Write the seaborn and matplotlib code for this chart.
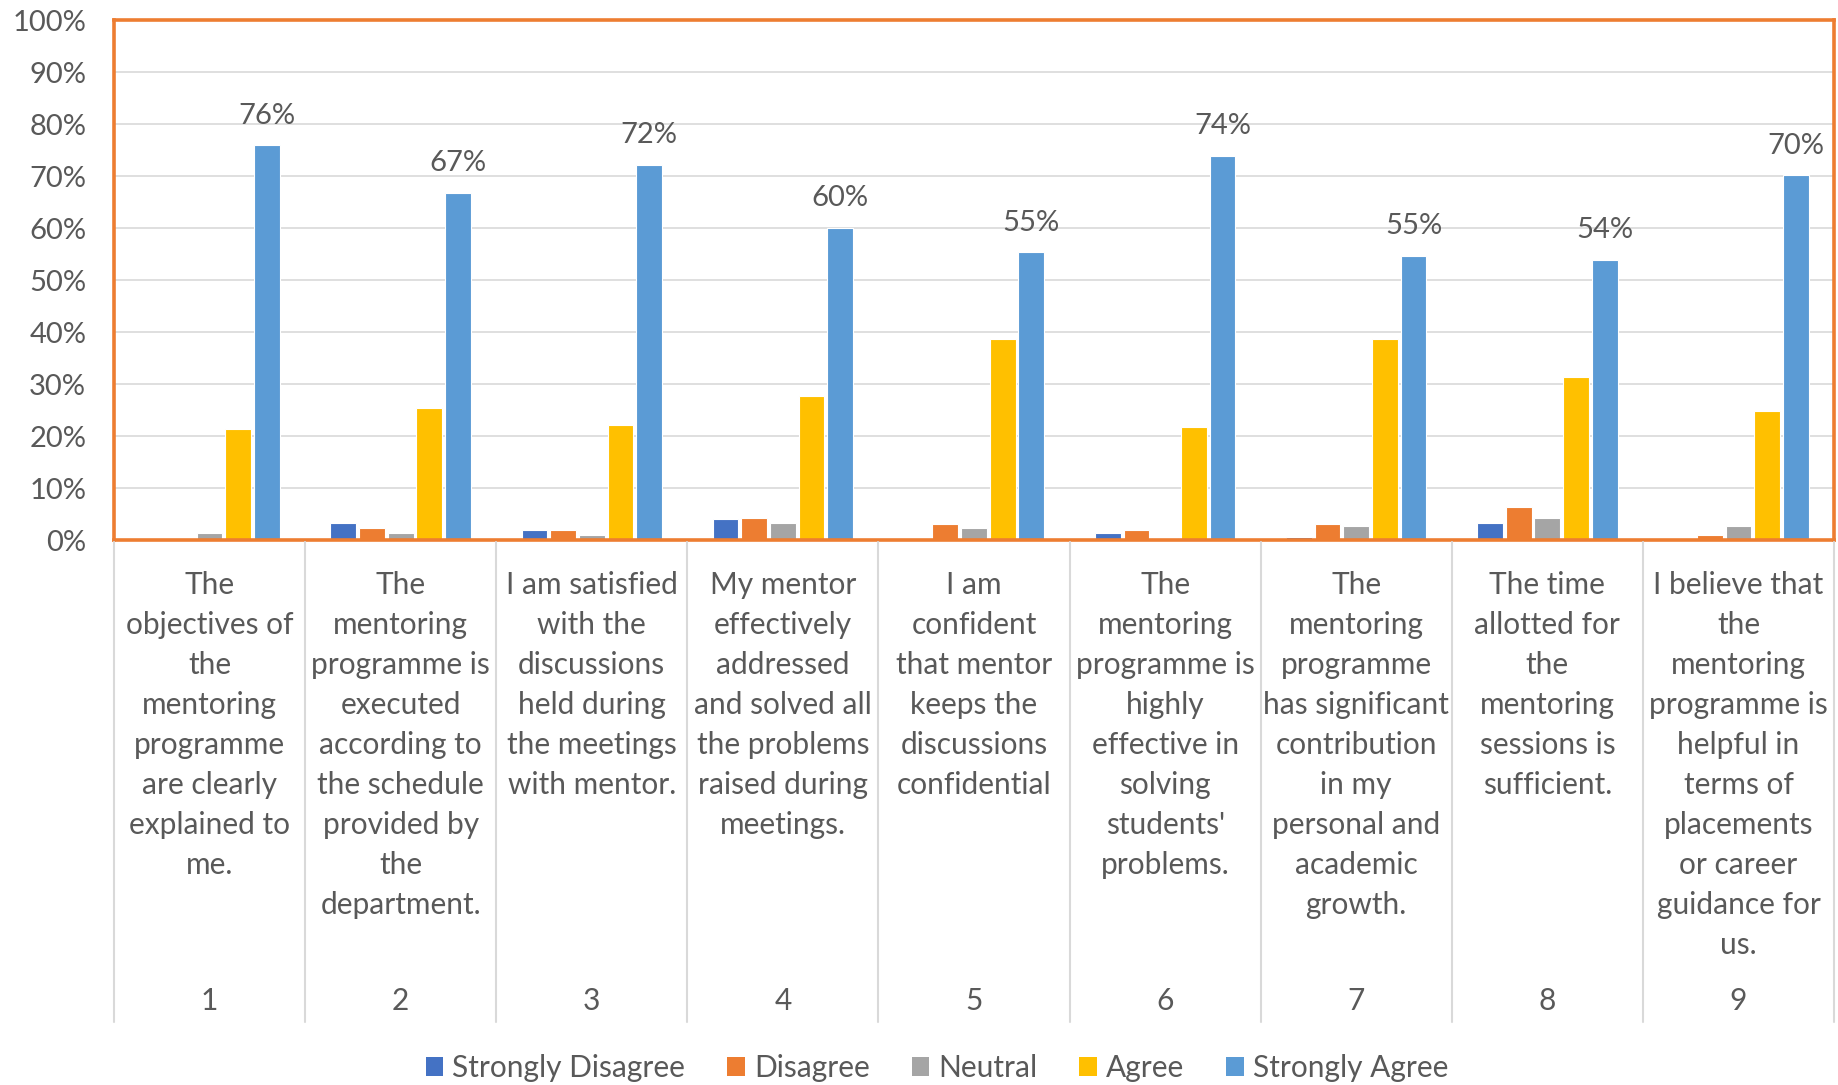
import matplotlib
matplotlib.use("Agg")
import matplotlib.pyplot as plt
import matplotlib.transforms as mtransforms
from matplotlib.lines import Line2D
from matplotlib.patches import Patch
from matplotlib.ticker import FuncFormatter
import pandas as pd
import seaborn as sns

# Survey responses (% of students) per statement
questions = ["1", "2", "3", "4", "5", "6", "7", "8", "9"]
statements = [
    "The\nobjectives of\nthe\nmentoring\nprogramme\nare clearly\nexplained to\nme.",
    "The\nmentoring\nprogramme is\nexecuted\naccording to\nthe schedule\nprovided by\nthe\ndepartment.",
    "I am satisfied\nwith the\ndiscussions\nheld during\nthe meetings\nwith mentor.",
    "My mentor\neffectively\naddressed\nand solved all\nthe problems\nraised during\nmeetings.",
    "I am\nconfident\nthat mentor\nkeeps the\ndiscussions\nconfidential",
    "The\nmentoring\nprogramme is\nhighly\neffective in\nsolving\nstudents'\nproblems.",
    "The\nmentoring\nprogramme\nhas significant\ncontribution\nin my\npersonal and\nacademic\ngrowth.",
    "The time\nallotted for\nthe\nmentoring\nsessions is\nsufficient.",
    "I believe that\nthe\nmentoring\nprogramme is\nhelpful in\nterms of\nplacements\nor career\nguidance for\nus.",
]
responses = ["Strongly Disagree", "Disagree", "Neutral", "Agree", "Strongly Agree"]
strongly_disagree = [0.0, 3.3, 1.9, 4.0, 0.0, 1.4, 0.6, 3.3, 0.0]
disagree = [0.0, 2.3, 1.9, 4.3, 3.0, 1.9, 3.0, 6.3, 1.0]
neutral = [1.3, 1.3, 1.0, 3.3, 2.3, 0.3, 2.6, 4.3, 2.6]
agree = [21.4, 25.3, 22.1, 27.7, 38.6, 21.7, 38.7, 31.4, 24.9]
strongly_agree = [75.9, 66.7, 72.1, 60.0, 55.3, 73.9, 54.6, 53.9, 70.1]

colors = ["#4472C4", "#ED7D31", "#A5A5A5", "#FFC000", "#5B9BD5"]
text_color = "#595959"

series = [strongly_disagree, disagree, neutral, agree, strongly_agree]
rows = []
for resp, vals in zip(responses, series):
    for q, v in zip(questions, vals):
        rows.append({"question": q, "response": resp, "value": v})
df = pd.DataFrame(rows)

sns.set_theme(style="white")
plt.rcParams["font.family"] = ["Lato", "DejaVu Sans"]

fig = plt.figure(figsize=(18.38, 10.85), dpi=100)
ax = fig.add_axes([114 / 1838, 1 - 540 / 1085, (1834 - 114) / 1838, (540 - 20) / 1085])

sns.barplot(
    data=df, x="question", y="value", hue="response",
    order=questions, hue_order=responses, palette=colors, saturation=1,
    width=0.75, gap=0.1, edgecolor="white", linewidth=0.8,
    legend=False, ax=ax,
)

# percentage labels only for "Strongly Agree"
sa_bars = ax.containers[-1]
ax.bar_label(sa_bars, labels=[f"{v:.0f}%" for v in strongly_agree],
             padding=12, fontsize=21, color=text_color)

ax.set_ylim(0, 100)
ax.set_yticks(range(0, 101, 10))
ax.yaxis.set_major_formatter(FuncFormatter(lambda v, p: f"{v:.0f}%"))
ax.tick_params(axis="y", length=0, pad=20, labelsize=21, labelcolor=text_color)
ax.tick_params(axis="x", length=0, labelbottom=False)
ax.set_xlabel("")
ax.set_ylabel("")
ax.grid(axis="y", color="#D9D9D9", linewidth=1.2)
ax.set_axisbelow(True)
for sp in ax.spines.values():
    sp.set_color("#ED7D31")
    sp.set_linewidth(2.6)

# multi-level category axis below the plot
trans = mtransforms.blended_transform_factory(ax.transData, fig.transFigure)
for i, (q, s) in enumerate(zip(questions, statements)):
    ax.text(i, 1 - 571 / 1085, s, transform=trans, ha="center", va="top",
            fontsize=21.5, color=text_color, linespacing=1.52, clip_on=False)
    ax.text(i, 1 - 1001 / 1085, q, transform=trans, ha="center", va="center",
            fontsize=21.5, color=text_color, clip_on=False)
for b in range(len(questions) + 1):
    x = b - 0.5
    fig.add_artist(Line2D([x, x], [1 - 542 / 1085, 1 - 1022 / 1085], transform=trans,
                          color="#D9D9D9", linewidth=1.5))

handles = [Patch(facecolor=c, edgecolor="none") for c in colors]
fig.legend(handles, responses, loc="center", bbox_to_anchor=(937 / 1838, 1 - 1068 / 1085),
           ncol=5, frameon=False, fontsize=21.5, handlelength=0.6, handleheight=0.6,
           handletextpad=0.3, columnspacing=1.4, labelcolor=text_color)

fig.savefig("out.png", dpi=100)
